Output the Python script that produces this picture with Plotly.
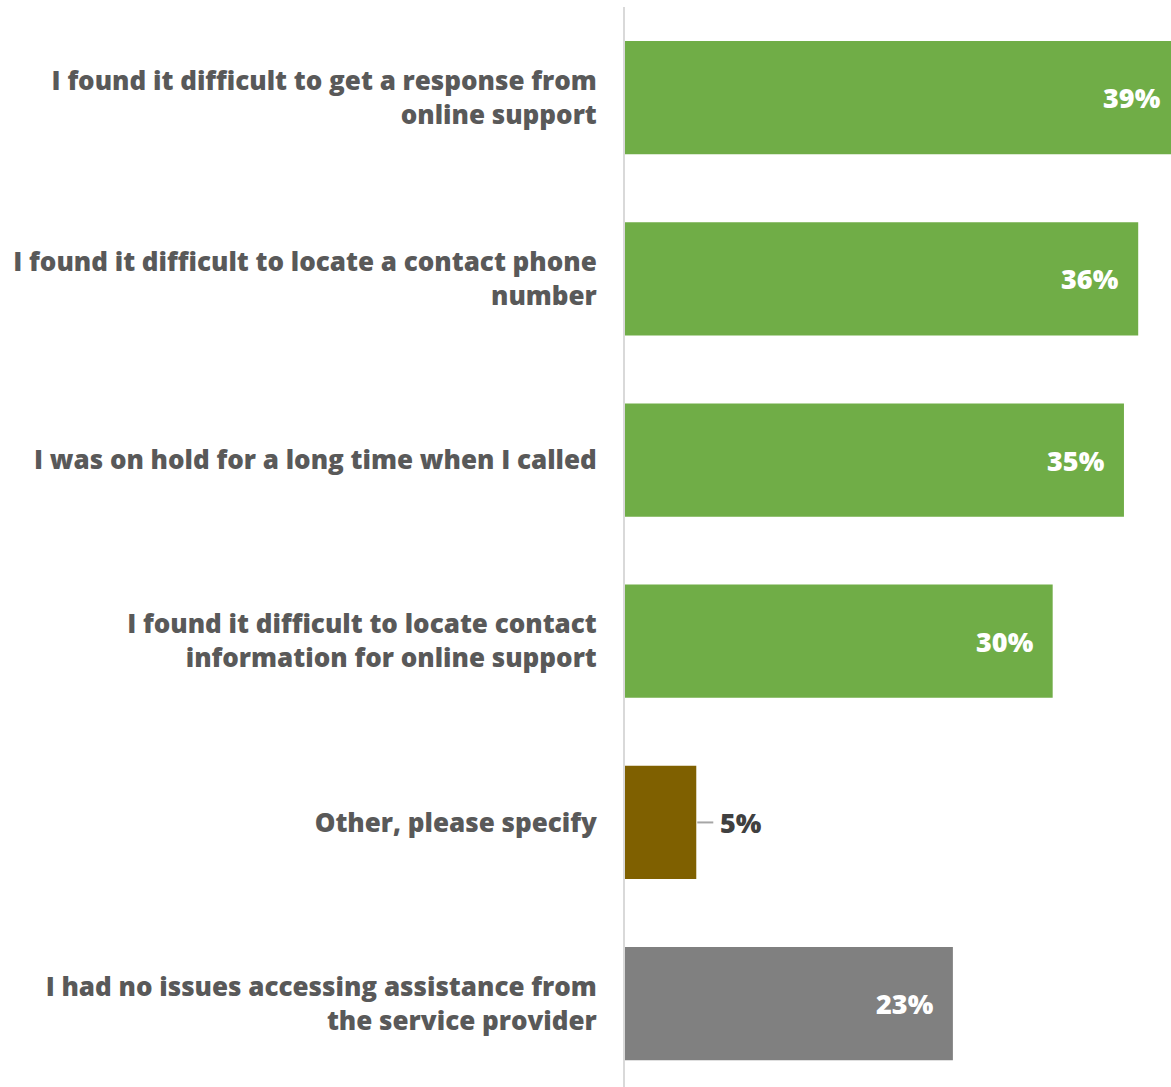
import plotly.graph_objects as go

# Survey responses: difficulties reaching customer assistance
categories = [
    "I found it difficult to get a response from<br>online support",
    "I found it difficult to locate a contact phone<br>number",
    "I was on hold for a long time when I called",
    "I found it difficult to locate contact<br>information for online support",
    "Other, please specify",
    "I had no issues accessing assistance from<br>the service provider",
]
values = [39, 36, 35, 30, 5, 23]
value_labels = ["39%", "36%", "35%", "30%", "5%", "23%"]
bar_colors = ["#70AD47", "#70AD47", "#70AD47", "#70AD47", "#7F6000", "#808080"]

FONT = "Open Sans"
X_MAX = 38.3

fig = go.Figure(
    go.Bar(
        x=values,
        y=categories,
        orientation="h",
        marker=dict(color=bar_colors, line=dict(width=0)),
        hoverinfo="skip",
    )
)

annotations = []
for cat, v, lab in zip(categories, values, value_labels):
    if v < 10:
        # small bar: label outside with a short leader line
        annotations.append(dict(
            x=v, y=cat, xref="x", yref="y", text=lab, showarrow=False,
            xanchor="left", xshift=22,
            font=dict(family=FONT, size=27, color="#404040", weight=800),
        ))
        fig.add_shape(
            type="line", xref="x", yref="y", xsizemode="pixel", xanchor=v,
            x0=1, x1=17, y0=cat, y1=cat,
            line=dict(color="#a6a6a6", width=2),
        )
    else:
        clipped = v > X_MAX
        annotations.append(dict(
            x=min(v, X_MAX), y=cat, xref="x", yref="y", text=lab, showarrow=False,
            xanchor="right", xshift=-8 if clipped else -17,
            font=dict(family=FONT, size=27, color="#ffffff", weight=800),
        ))

fig.update_layout(
    width=1171,
    height=1087,
    margin=dict(l=625, r=0, t=7, b=0, autoexpand=False),
    paper_bgcolor="white",
    plot_bgcolor="white",
    bargap=0.375,
    showlegend=False,
    annotations=annotations,
    font=dict(family=FONT),
)
fig.update_xaxes(
    range=[0, X_MAX], showgrid=False, zeroline=False, showticklabels=False,
    showline=False, fixedrange=True, automargin=False,
)
fig.update_yaxes(
    categoryorder="array", categoryarray=categories,
    range=[5.46, -0.5],
    showgrid=False, zeroline=False, showline=True,
    linecolor="#d9d9d9", linewidth=2,
    ticks="", ticklabelstandoff=21, automargin=False,
    tickfont=dict(family=FONT, size=26, color="#595959", weight=800),
    fixedrange=True,
)

fig.write_html("out.html")
